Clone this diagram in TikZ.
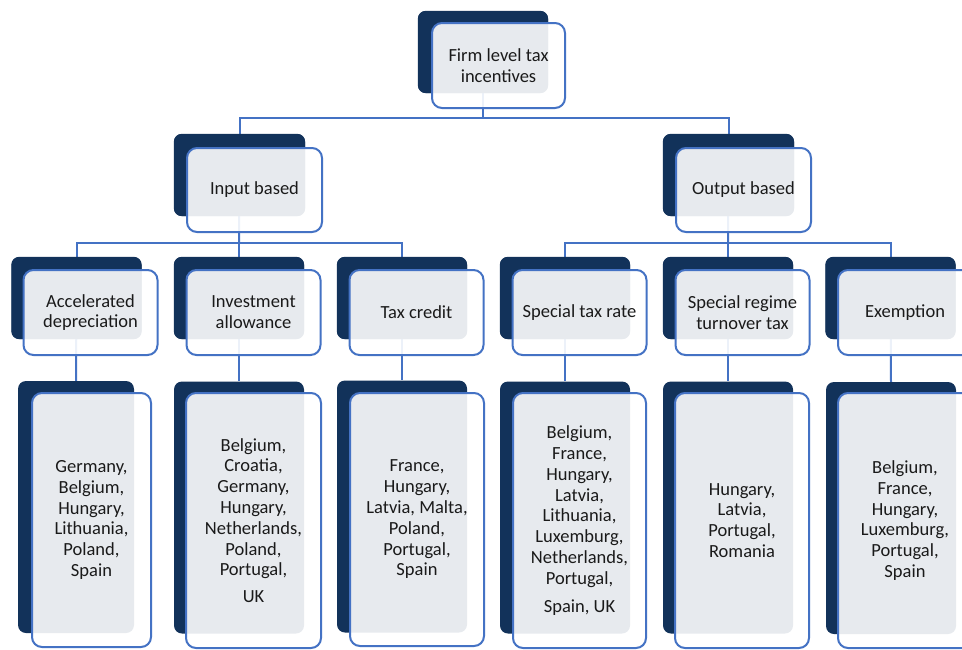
\documentclass[tikz,border=0pt]{standalone}
\usepackage{fontspec}
\setmainfont{Carlito}
\definecolor{navy}{HTML}{12325A}
\definecolor{edgeblue}{HTML}{4472C4}
\definecolor{txt}{HTML}{1A1A1A}
\tikzset{
  darkbox/.style={draw=none, fill=navy, rounded corners=8pt, inner sep=0pt},
  frontbox/.style={draw=edgeblue, line width=2pt, fill=white, fill opacity=0.9, text opacity=1,
     rounded corners=10pt, inner sep=0pt, align=center, text=txt,
     font=\fontsize{18.5}{20.8}\selectfont},
  conn/.style={draw=edgeblue, line width=2pt},
}
\begin{document}
\begin{tikzpicture}[x=1pt,y=-1pt]
\useasboundingbox (0,0) rectangle (962,649);
\clip (0,0) rectangle (962,649);
\fill[white] (0,0) rectangle (962,649);
% junction points
\coordinate (j1) at (483,118);
\coordinate (j2) at (239,243);
\coordinate (j3) at (728,243);
% dark boxes
\node[darkbox, minimum width=130pt, minimum height=82pt] (d1) at (483,52) {};
\node[darkbox, minimum width=131pt, minimum height=82pt] (d2a) at (239.5,175) {};
\node[darkbox, minimum width=131pt, minimum height=82pt] (d2b) at (728.5,175) {};
\node[darkbox, minimum width=130pt, minimum height=82pt] (d3a) at (76.5,298) {};
\node[darkbox, minimum width=130pt, minimum height=82pt] (d3b) at (239,298) {};
\node[darkbox, minimum width=130pt, minimum height=82pt] (d3c) at (402,298) {};
\node[darkbox, minimum width=130pt, minimum height=82pt] (d3d) at (565,298) {};
\node[darkbox, minimum width=130pt, minimum height=82pt] (d3e) at (728,298) {};
\node[darkbox, minimum width=130pt, minimum height=82pt] (d3f) at (890.5,298) {};
\node[darkbox, minimum width=116pt, minimum height=252pt] (d4a) at (76,507) {};
\node[darkbox, minimum width=130pt, minimum height=252pt] (d4b) at (239,507.5) {};
\node[darkbox, minimum width=130pt, minimum height=252pt] (d4c) at (402,506.5) {};
\node[darkbox, minimum width=130pt, minimum height=252pt] (d4d) at (565,507.5) {};
\node[darkbox, minimum width=130pt, minimum height=252pt] (d4e) at (728,507.5) {};
\node[darkbox, minimum width=130pt, minimum height=252pt] (d4f) at (891,508) {};
% connectors
\draw[conn] (d1.center) -- (j1);
\draw[conn] (j1) -| (d2a.north);
\draw[conn] (j1) -| (d2b.north);
\draw[conn] (d2a.center) -- (j2);
\draw[conn] (j2) -| (d3a.north);
\draw[conn] (j2) -| (d3c.north);
\draw[conn] (j2) -- (d3b.north);
\draw[conn] (d2b.center) -- (j3);
\draw[conn] (j3) -| (d3d.north);
\draw[conn] (j3) -| (d3f.north);
\draw[conn] (j3) -- (d3e.north);
\draw[conn] (d3a.center) -- (d4a.north);
\draw[conn] (d3b.center) -- (d4b.north);
\draw[conn] (d3c.center) -- (d4c.north);
\draw[conn] (d3d.center) -- (d4d.north);
\draw[conn] (d3e.center) -- (d4e.north);
\draw[conn] (d3f.center) -- (d4f.north);
% redraw dark boxes over connector starts
\foreach \n in {d1,d2a,d2b,d3a,d3b,d3c,d3d,d3e,d3f}
  \fill[navy, rounded corners=8pt] (\n.south west) rectangle (\n.north east);
% front boxes
\node[frontbox, minimum width=133pt, minimum height=85pt] (f1) at (498.5,65.5) {Firm level tax\\incentives};
\node[frontbox, minimum width=135pt, minimum height=84pt] (f2a) at (254.5,190) {Input based};
\node[frontbox, minimum width=135pt, minimum height=84pt] (f2b) at (743.5,190) {Output based};
\node[frontbox, minimum width=134pt, minimum height=85pt] (f3a) at (90.5,312.5) {Accelerated\\depreciation};
\node[frontbox, minimum width=134pt, minimum height=85pt] (f3b) at (253.5,312.5) {Investment\\allowance};
\node[frontbox, minimum width=134pt, minimum height=85pt] (f3c) at (416.5,312.5) {Tax credit};
\node[frontbox, minimum width=134pt, minimum height=85pt] (f3d) at (579.5,312.5) {Special tax rate};
\node[frontbox, minimum width=134pt, minimum height=85pt] (f3e) at (742.5,312.5) {Special regime\\turnover tax};
\node[frontbox, minimum width=134pt, minimum height=85pt] (f3f) at (905,312.5) {Exemption};
\node[frontbox, minimum width=119pt, minimum height=254pt] (f4a) at (91.5,520) {Germany,\\Belgium,\\Hungary,\\Lithuania,\\Poland,\\Spain};
\node[frontbox, minimum width=135pt, minimum height=255pt] (f4b) at (253.5,520.5) {Belgium,\\Croatia,\\Germany,\\Hungary,\\Netherlands,\\Poland,\\Portugal,\\[6pt]UK};
\node[frontbox, minimum width=134pt, minimum height=253pt] (f4c) at (417,519.5) {France,\\Hungary,\\Latvia, Malta,\\Poland,\\Portugal,\\Spain};
\node[frontbox, minimum width=133pt, minimum height=255pt] (f4d) at (579.5,520.5) {Belgium,\\France,\\Hungary,\\Latvia,\\Lithuania,\\Luxemburg,\\Netherlands,\\Portugal,\\[7pt]Spain, UK};
\node[frontbox, minimum width=134pt, minimum height=255pt] (f4e) at (742,520.5) {Hungary,\\Latvia,\\Portugal,\\Romania};
\node[frontbox, minimum width=134pt, minimum height=255pt] (f4f) at (905,520.5) {Belgium,\\France,\\Hungary,\\Luxemburg,\\Portugal,\\Spain};
\end{tikzpicture}
\end{document}
